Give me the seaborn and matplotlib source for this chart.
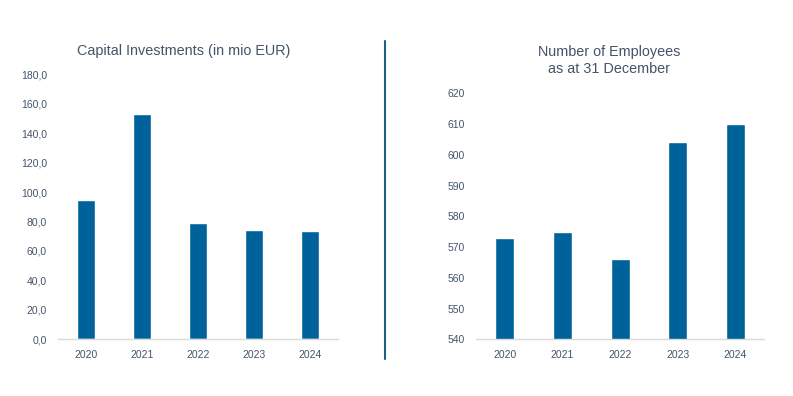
import matplotlib
matplotlib.use("Agg")
import matplotlib.pyplot as plt
import seaborn as sns
import pandas as pd
from matplotlib.lines import Line2D
from matplotlib.ticker import FuncFormatter

# -------------------------------
# Data
# -------------------------------
years = ["2020", "2021", "2022", "2023", "2024"]
capex = [94.6, 153.0, 79.0, 74.3, 73.6]
employees = [573, 575, 566, 604, 610]

capex_ticks = [0, 20, 40, 60, 80, 100, 120, 140, 160, 180]
emp_ticks = [540, 550, 560, 570, 580, 590, 600, 610, 620]

# -------------------------------
# Setup
# -------------------------------
sns.set_style("white")
plt.rcParams["font.family"] = ["Liberation Sans", "DejaVu Sans"]

BAR = "#00629B"
TEXT = "#44546A"
AXIS = "#D9D9D9"
DIVIDER = "#1B5E86"

df_cap = pd.DataFrame({"year": years, "value": capex})
df_emp = pd.DataFrame({"year": years, "value": employees})

fig = plt.figure(figsize=(7.93, 3.96), dpi=100)
ax1 = fig.add_axes([0.0731, 0.1432, 0.3531, 0.6692])
ax2 = fig.add_axes([0.6003, 0.1432, 0.3632, 0.6212])


def style_axis(ax, ticks):
    ax.set_xlim(-0.5, 4.5)
    ax.set_ylim(ticks[0], ticks[-1])
    ax.set_yticks(ticks)
    ax.set_xlabel("")
    ax.set_ylabel("")
    for side in ["left", "right", "top"]:
        ax.spines[side].set_visible(False)
    ax.spines["bottom"].set_color(AXIS)
    ax.spines["bottom"].set_linewidth(1.0)
    ax.tick_params(axis="both", length=0, labelsize=7.5, labelcolor=TEXT)
    ax.tick_params(axis="y", pad=8)
    ax.tick_params(axis="x", pad=7.5)


# -------------------------------
# Capital Investments
# -------------------------------
sns.barplot(data=df_cap, x="year", y="value", color=BAR, width=0.33,
            saturation=1, ax=ax1)
style_axis(ax1, capex_ticks)
ax1.yaxis.set_major_formatter(FuncFormatter(lambda v, p: f"{v:.1f}".replace(".", ",")))

# -------------------------------
# Number of Employees
# -------------------------------
sns.barplot(data=df_emp, x="year", y="value", color=BAR, width=0.33,
            saturation=1, ax=ax2)
style_axis(ax2, emp_ticks)

# -------------------------------
# Titles and divider
# -------------------------------
fig.text(183.3 / 793, 1 - 54.7 / 396, "Capital Investments (in mio EUR)",
         ha="center", va="baseline", fontsize=10.4, color=TEXT)
fig.text(609 / 793, 1 - 56 / 396, "Number of Employees",
         ha="center", va="baseline", fontsize=10.4, color=TEXT)
fig.text(609 / 793, 1 - 73.3 / 396, "as at 31 December",
         ha="center", va="baseline", fontsize=10.4, color=TEXT)

fig.add_artist(Line2D([385 / 793, 385 / 793], [1 - 41 / 396, 1 - 359 / 396],
                      transform=fig.transFigure, color=DIVIDER, linewidth=1.5))

fig.savefig("out.png", dpi=100, facecolor="white")
